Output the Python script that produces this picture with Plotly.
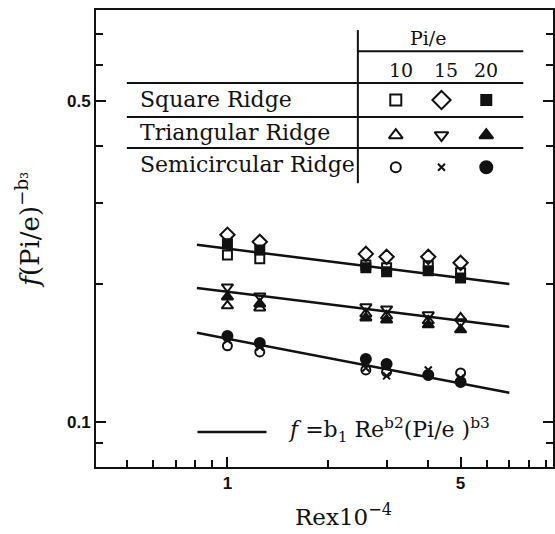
import plotly.graph_objects as go

# ---------------- data ----------------
re_vals = [1.0, 1.25, 2.6, 3.0, 4.0, 5.0]

sq10 = [0.2316, 0.2271, 0.2203, 0.2171, 0.2193, 0.2117]
sq15 = [0.2562, 0.2473, 0.2328, 0.2294, 0.2294, 0.2226]
sq20 = [0.2448, 0.2375, 0.2171, 0.2128, 0.2139, 0.2064]

tri10 = [0.1794, 0.1776, 0.1723, 0.1706, 0.1664, 0.1689]
tri15 = [0.1973, 0.1886, 0.1785, 0.1767, 0.1715, 0.1656]
tri20 = [0.1876, 0.1812, 0.1689, 0.1672, 0.1631, 0.1591]

semi10 = [0.1468, 0.1424, 0.1301, 0.1288, 0.1269, 0.1282]
semi15 = [0.1512, 0.1460, 0.1314, 0.1263, 0.1301, 0.1250]
semi20 = [0.1543, 0.1490, 0.1375, 0.1341, 0.1269, 0.1225]

fit_re = [0.81, 7.0]
fit_sq = [0.2436, 0.2003]
fit_tri = [0.1963, 0.1615]
fit_semi = [0.1567, 0.1160]

x_ticks = [1, 5]
x_ticklabels = ["1", "5"]
x_minor = [0.5, 0.6, 0.7, 0.8, 0.9, 2, 3, 4, 6, 7, 8, 9]
y_ticks = [0.1, 0.5]
y_ticklabels = ["0.1", "0.5"]
y_minor = [0.09, 0.2, 0.3, 0.4, 0.6, 0.7]

pi_e_levels = ["10", "15", "20"]
ridge_names = ["Square Ridge", "Triangular Ridge", "Semicircular Ridge"]

# ---------------- styles ----------------
BLACK = "#111111"
series = [
    (sq10, "square-open", 9), (sq15, "diamond-open", 11), (sq20, "square", 9),
    (tri10, "triangle-up-open", 10), (tri15, "triangle-down-open", 10), (tri20, "triangle-up", 10),
    (semi10, "circle-open", 9), (semi15, "x-thin-open", 7), (semi20, "circle", 10),
]

fig = go.Figure()

for fy in (fit_sq, fit_tri, fit_semi):
    fig.add_trace(go.Scatter(x=fit_re, y=fy, mode="lines",
                             line=dict(color=BLACK, width=2.5), showlegend=False,
                             hoverinfo="skip"))

for vals, sym, sz in series:
    fig.add_trace(go.Scatter(x=re_vals, y=vals, mode="markers", showlegend=False,
                             marker=dict(symbol=sym, size=sz, color=BLACK,
                                         line=dict(color=BLACK, width=2))))

# ---- legend table symbols on an overlay axis (0..1 over plot area) ----
col_pos = [0.656, 0.756, 0.854]
row_pos = [0.803, 0.726, 0.656]
table_syms = [
    [("square-open", 11), ("diamond-open", 14), ("square", 10)],
    [("triangle-up-open", 12), ("triangle-down-open", 12), ("triangle-up", 12)],
    [("circle-open", 10), ("x-thin-open", 7), ("circle", 12)],
]
for r, row in enumerate(table_syms):
    for c, (sym, sz) in enumerate(row):
        fig.add_trace(go.Scatter(x=[col_pos[c]], y=[row_pos[r]], xaxis="x2", yaxis="y2",
                                 mode="markers", showlegend=False, hoverinfo="skip",
                                 marker=dict(symbol=sym, size=sz, color=BLACK,
                                             line=dict(color=BLACK, width=2))))

# ---- table lines ----
shapes = []
def pline(x0, y0, x1, y1, w=2):
    shapes.append(dict(type="line", xref="paper", yref="paper", x0=x0, y0=y0, x1=x1, y1=y1,
                       line=dict(color=BLACK, width=w)))
pline(0.573, 0.956, 0.573, 0.621)
pline(0.573, 0.910, 0.935, 0.910)
for yy in (0.840, 0.766, 0.698):
    pline(0.0675, yy, 0.935, yy)
# formula legend line
pline(0.222, 0.0766, 0.373, 0.0766, 2.5)

def txt(text, x, y, size, xanchor="center", angle=0):
    return dict(text=text, x=x, y=y, xref="paper", yref="paper", showarrow=False,
                xanchor=xanchor, yanchor="middle", textangle=angle,
                font=dict(family="DejaVu Serif", size=size, color=BLACK))

ann = [txt("Pi/e", 0.728, 0.939, 19)]
for c, lab in enumerate(pi_e_levels):
    ann.append(txt(lab, [0.667, 0.765, 0.854][c], 0.869, 19))
for r, name in enumerate(ridge_names):
    ann.append(txt(name, 0.0915, [0.805, 0.731, 0.661][r], 22, xanchor="left"))
ann.append(txt("<i>f</i> =b<sub>1</sub> Re<sup>b2</sup>(Pi/e )<sup>b3</sup>", 0.416, 0.08, 22,
               xanchor="left"))
ann.append(txt("Rex10<sup>−4</sup>", 0.542, -0.105, 23))
ann.append(txt("<i>f</i>(Pi/e)<sup>−b₃</sup>", -0.148, 0.52, 26, angle=-90))

fig.update_layout(
    width=555, height=534,
    margin=dict(l=96, r=0, t=10, b=67),
    paper_bgcolor="white", plot_bgcolor="white",
    shapes=shapes, annotations=ann,
    xaxis=dict(type="log", range=[-0.394, 0.976], showgrid=False, zeroline=False,
               showline=True, linecolor=BLACK, linewidth=2, mirror=True,
               ticks="inside", ticklen=10, tickwidth=2, tickcolor=BLACK,
               tickvals=x_ticks, ticktext=x_ticklabels,
               tickfont=dict(family="Liberation Sans", size=17, color=BLACK, weight="bold"),
               minor=dict(tickvals=x_minor, ticks="inside", ticklen=7, tickwidth=2,
                          tickcolor=BLACK, showgrid=False)),
    yaxis=dict(type="log", range=[-1.097, -0.102], showgrid=False, zeroline=False,
               showline=True, linecolor=BLACK, linewidth=2, mirror="ticks",
               ticks="inside", ticklen=10, tickwidth=2, tickcolor=BLACK,
               tickvals=y_ticks, ticktext=y_ticklabels,
               tickfont=dict(family="Liberation Sans", size=17, color=BLACK, weight="bold"),
               minor=dict(tickvals=y_minor, ticks="inside", ticklen=7, tickwidth=2,
                          tickcolor=BLACK, showgrid=False)),
    xaxis2=dict(overlaying="x", range=[0, 1], visible=False),
    yaxis2=dict(overlaying="y", range=[0, 1], visible=False),
)

fig.write_html("out.html")
